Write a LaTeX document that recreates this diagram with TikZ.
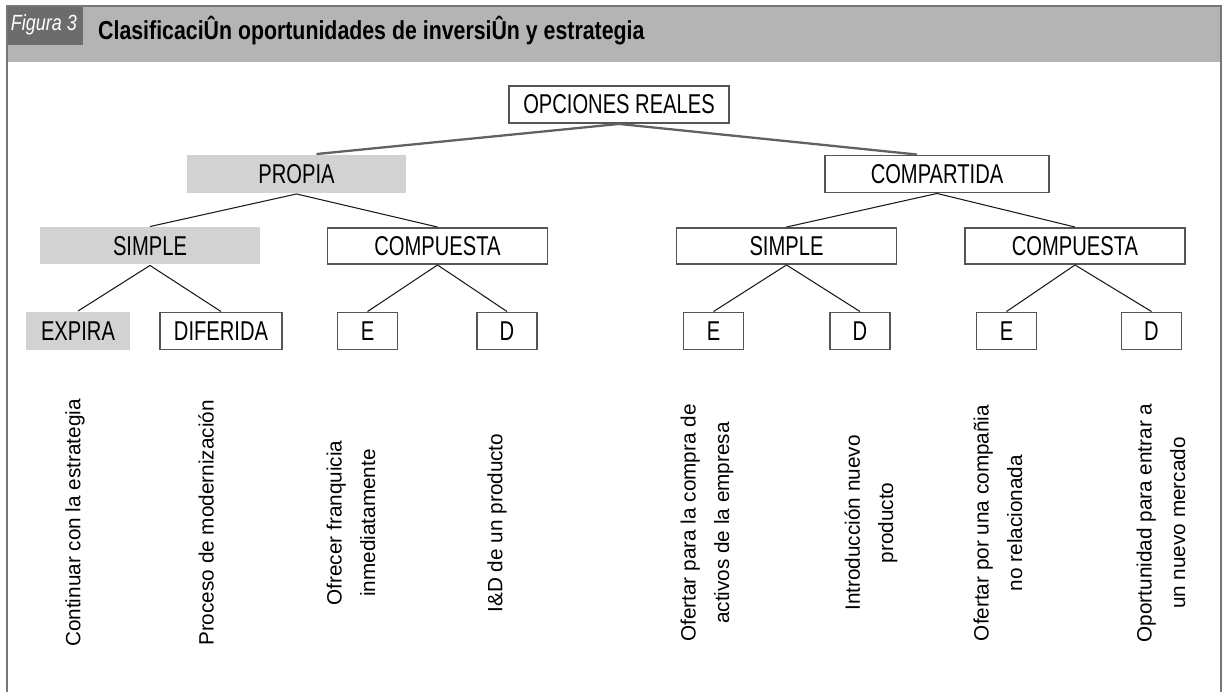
\documentclass[tikz,border=0pt]{standalone}
\usepackage{fontspec}
\setmainfont{Liberation Sans}
\newfontfamily\narrowfont[FakeStretch=0.82]{Liberation Sans}
\newfontfamily\boxfont[FakeStretch=0.74]{Liberation Sans}
\usepackage{tikz}
\definecolor{frameColor}{RGB}{118,118,118}
\definecolor{bandFill}{RGB}{180,180,180}
\definecolor{tagFill}{RGB}{108,108,108}
\definecolor{shadeFill}{RGB}{210,210,210}
\definecolor{boxLine}{RGB}{85,85,85}
\definecolor{linkColor}{RGB}{25,25,25}
\tikzset{
    opt_box/.style={
        rectangle,
        draw=boxLine,
        line width=1.1pt,
        fill=white,
        text=black,
        font=\boxfont\fontsize{15.5}{17}\selectfont,
        minimum width=4.4cm,
        minimum height=0.74cm,
        inner sep=0pt
    },
    opt_shaded/.style={
        opt_box,
        draw=none,
        fill=shadeFill
    },
    opt_leaf/.style={
        opt_box,
        minimum width=1.2cm
    },
    opt_link/.style={
        draw=linkColor,
        line width=0.6pt
    },
    opt_root_link/.style={
        draw=black!62,
        line width=1.3pt
    },
    opt_note/.style={
        rotate=90,
        align=center,
        inner sep=0pt,
        font=\fontsize{11.8}{19}\selectfont
    }
}

\begin{document}
\begin{tikzpicture}[x=0.02cm, y=-0.02cm]
    \useasboundingbox (0,0) rectangle (1225,692);

    % cabecera
    \fill[bandFill] (7,6) rectangle (1221,62);
    \fill[tagFill] (7,6) rectangle (83,45);
    \draw[frameColor, line width=1.2pt] (7,692) -- (7,6) -- (1221,6) -- (1221,692);
    \node[text=white, font=\narrowfont\itshape\fontsize{12.5}{14}\selectfont] (tag) at (44,25) {Figura 3};
    \node[anchor=base west, font=\narrowfont\bfseries\fontsize{14.8}{17}\selectfont] (title) at (92,40)
        {ClasificaciÛn oportunidades de inversiÛn y estrategia};

    % arbol
    \node[opt_box] (root) at (619,104.5) {OPCIONES REALES};
    \node[opt_shaded, minimum height=0.76cm] (own) at (296.5,174) {PROPIA};
    \node[opt_box, minimum width=4.48cm] (shared) at (937,174) {COMPARTIDA};

    \node[opt_shaded] (ownSimple) at (150,246) {SIMPLE};
    \node[opt_box, minimum height=0.72cm] (ownCompound) at (437.5,246) {COMPUESTA};
    \node[opt_box, minimum height=0.72cm] (sharedSimple) at (786.5,246) {SIMPLE};
    \node[opt_box, minimum height=0.72cm] (sharedCompound) at (1075,246) {COMPUESTA};

    \node[opt_shaded, minimum width=2.08cm, minimum height=0.76cm] (expires) at (78,331) {EXPIRA};
    \node[opt_leaf, minimum width=2.44cm] (deferred) at (221,331) {DIFERIDA};
    \node[opt_leaf] (ownE) at (367.5,331) {E};
    \node[opt_leaf] (ownD) at (507,331) {D};
    \node[opt_leaf] (simpleE) at (713.5,331) {E};
    \node[opt_leaf] (simpleD) at (860,331) {D};
    \node[opt_leaf] (compoundE) at (1006.5,331) {E};
    \node[opt_leaf] (compoundD) at (1151.5,331) {D};

    \draw[opt_root_link] (root.south) -- ([xshift=0.4cm]own.north);
    \draw[opt_root_link] (root.south) -- ([xshift=-0.4cm]shared.north);
    \draw[opt_link] (own.south) -- (ownSimple.north);
    \draw[opt_link] (own.south) -- (ownCompound.north);
    \draw[opt_link] (shared.south) -- (sharedSimple.north);
    \draw[opt_link] (shared.south) -- (sharedCompound.north);
    \draw[opt_link] (ownSimple.south) -- (expires.north);
    \draw[opt_link] (ownSimple.south) -- (deferred.north);
    \draw[opt_link] (ownCompound.south) -- (ownE.north);
    \draw[opt_link] (ownCompound.south) -- (ownD.north);
    \draw[opt_link] (sharedSimple.south) -- (simpleE.north);
    \draw[opt_link] (sharedSimple.south) -- (simpleD.north);
    \draw[opt_link] (sharedCompound.south) -- (compoundE.north);
    \draw[opt_link] (sharedCompound.south) -- (compoundD.north);

    % estrategias
    \node[opt_note] (noteExpires) at (75,523) {Continuar con la estrategia};
    \node[opt_note] (noteDeferred) at (206,523) {Proceso de modernización};
    \node[opt_note] (noteOwnE) at (351,523) {Ofrecer franquicia\\inmediatamente};
    \node[opt_note] (noteOwnD) at (497,523) {I\&D de un producto};
    \node[opt_note] (noteSimpleE) at (707,523) {Ofertar para la compra de\\activos de la empresa};
    \node[opt_note] (noteSimpleD) at (871,523) {Introducción nuevo\\producto};
    \node[opt_note] (noteCompoundE) at (998,523) {Ofertar por una compañia\\no relacionada};
    \node[opt_note] (noteCompoundD) at (1161,523) {Oportunidad para entrar a\\un nuevo mercado};
\end{tikzpicture}
\end{document}
